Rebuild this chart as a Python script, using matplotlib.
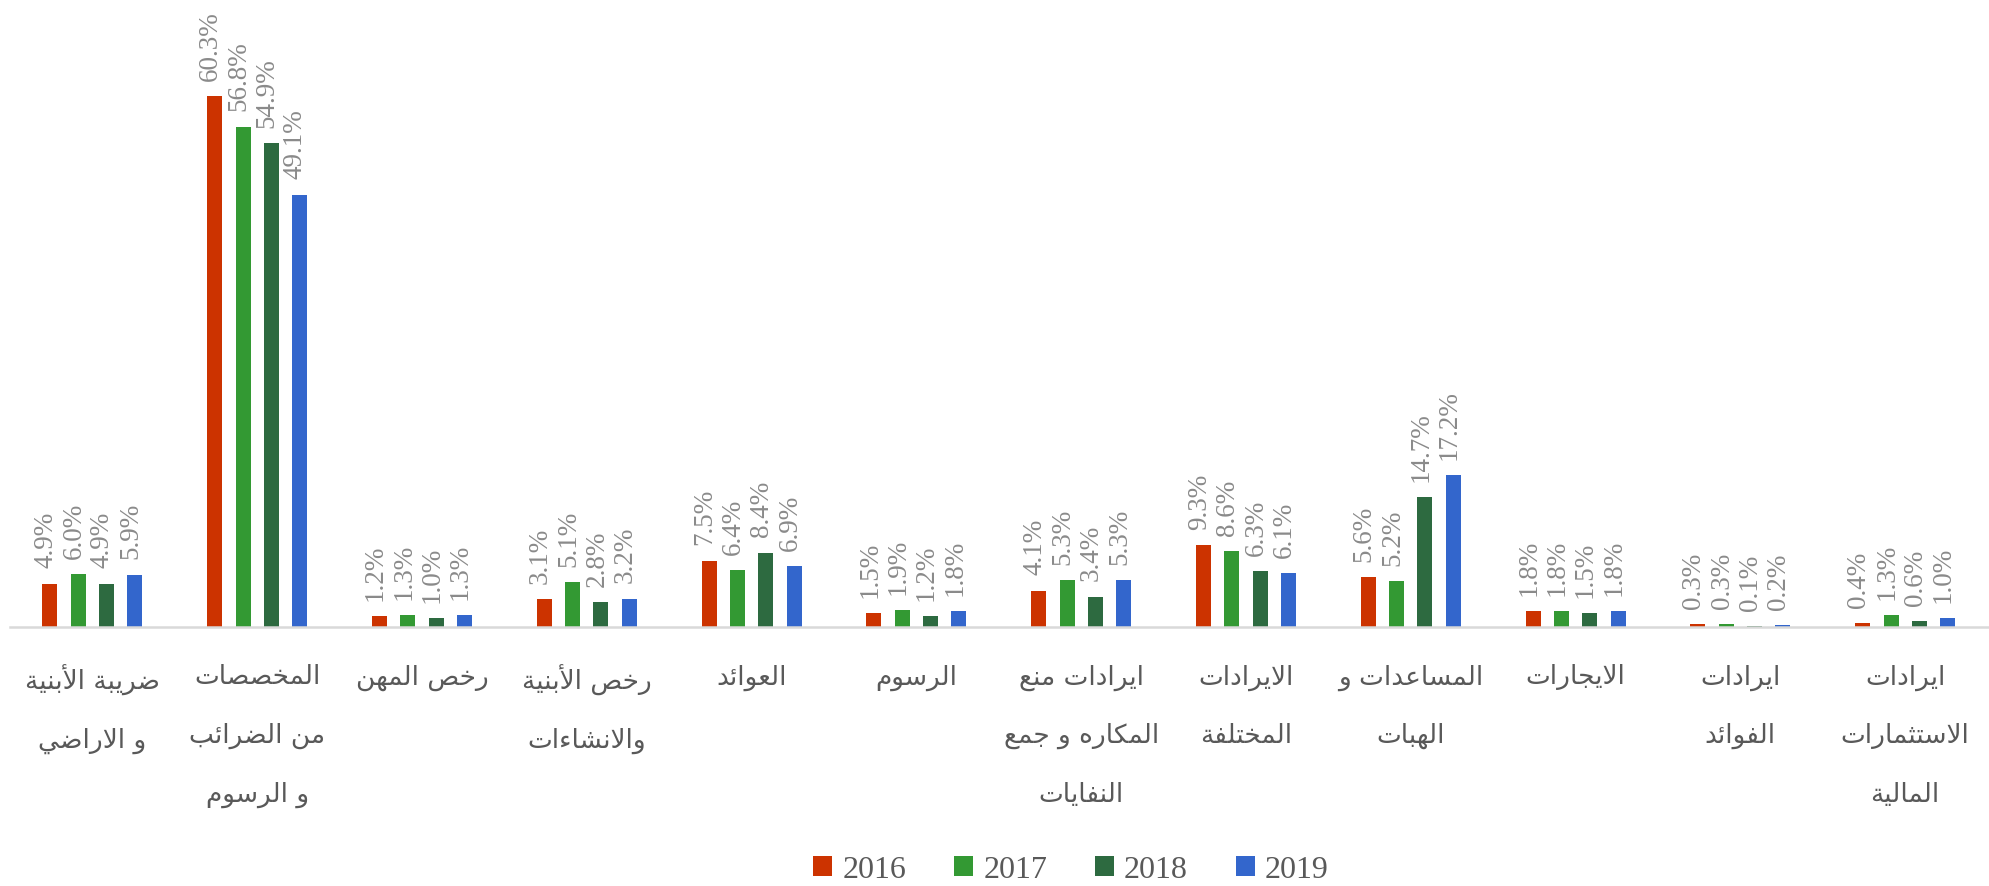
import matplotlib
matplotlib.use("Agg")
import matplotlib.pyplot as plt
from matplotlib.patches import Patch
import numpy as np

# ---------------- data ----------------
categories = [
    "ضريبة الأبنية\nو الاراضي",
    "المخصصات\nمن الضرائب\nو الرسوم",
    "رخص المهن",
    "رخص الأبنية\nوالانشاءات",
    "العوائد",
    "الرسوم",
    "ايرادات منع\nالمكاره و جمع\nالنفايات",
    "الايرادات\nالمختلفة",
    "المساعدات و\nالهبات",
    "الايجارات",
    "ايرادات\nالفوائد",
    "ايرادات\nالاستثمارات\nالمالية",
]
years = ["2016", "2017", "2018", "2019"]
v2016 = [4.9, 60.3, 1.2, 3.1, 7.5, 1.5, 4.1, 9.3, 5.6, 1.8, 0.3, 0.4]
v2017 = [6.0, 56.8, 1.3, 5.1, 6.4, 1.9, 5.3, 8.6, 5.2, 1.8, 0.3, 1.3]
v2018 = [4.9, 54.9, 1.0, 2.8, 8.4, 1.2, 3.4, 6.3, 14.7, 1.5, 0.1, 0.6]
v2019 = [5.9, 49.1, 1.3, 3.2, 6.9, 1.8, 5.3, 6.1, 17.2, 1.8, 0.2, 1.0]
series = [v2016, v2017, v2018, v2019]
colors = ["#CC3300", "#339933", "#2D6A40", "#3366CC"]

# ---------------- minimal Arabic shaping ----------------
# code point -> (isolated presentation form, kind) ; kind 1 = non-joining, 2 = right-joining, 4 = dual-joining
_FORMS = {
    0x0621: (0xFE80, 1), 0x0622: (0xFE81, 2), 0x0623: (0xFE83, 2), 0x0624: (0xFE85, 2),
    0x0625: (0xFE87, 2), 0x0626: (0xFE89, 4), 0x0627: (0xFE8D, 2), 0x0628: (0xFE8F, 4),
    0x0629: (0xFE93, 2), 0x062A: (0xFE95, 4), 0x062B: (0xFE99, 4), 0x062C: (0xFE9D, 4),
    0x062D: (0xFEA1, 4), 0x062E: (0xFEA5, 4), 0x062F: (0xFEA9, 2), 0x0630: (0xFEAB, 2),
    0x0631: (0xFEAD, 2), 0x0632: (0xFEAF, 2), 0x0633: (0xFEB1, 4), 0x0634: (0xFEB5, 4),
    0x0635: (0xFEB9, 4), 0x0636: (0xFEBD, 4), 0x0637: (0xFEC1, 4), 0x0638: (0xFEC5, 4),
    0x0639: (0xFEC9, 4), 0x063A: (0xFECD, 4), 0x0641: (0xFED1, 4), 0x0642: (0xFED5, 4),
    0x0643: (0xFED9, 4), 0x0644: (0xFEDD, 4), 0x0645: (0xFEE1, 4), 0x0646: (0xFEE5, 4),
    0x0647: (0xFEE9, 4), 0x0648: (0xFEED, 2), 0x0649: (0xFEEF, 2), 0x064A: (0xFEF1, 4),
}
_LAMALEF = {0x0622: (0xFEF5, 0xFEF6), 0x0623: (0xFEF7, 0xFEF8),
            0x0625: (0xFEF9, 0xFEFA), 0x0627: (0xFEFB, 0xFEFC)}


def _shape_line(line):
    cps = [ord(c) for c in line]
    n = len(cps)
    res = []
    i = 0
    while i < n:
        c = cps[i]
        if c not in _FORMS:
            res.append(chr(c))
            i += 1
            continue
        prev = cps[i - 1] if i > 0 else None
        prev_join = prev is not None and prev in _FORMS and _FORMS[prev][1] == 4
        if c == 0x0644 and i + 1 < n and cps[i + 1] in _LAMALEF:
            iso, fin = _LAMALEF[cps[i + 1]]
            res.append(chr(fin if prev_join else iso))
            i += 2
            continue
        nxt = cps[i + 1] if i + 1 < n else None
        next_join = nxt is not None and nxt in _FORMS and _FORMS[nxt][1] != 1
        base, kind = _FORMS[c]
        if kind == 1:
            g = base
        elif kind == 2:
            g = base + 1 if prev_join else base
        else:
            if prev_join and next_join:
                g = base + 3
            elif prev_join:
                g = base + 1
            elif next_join:
                g = base + 2
            else:
                g = base
        res.append(chr(g))
        i += 1
    return "".join(reversed(res))


def shape(text):
    return "\n".join(_shape_line(l) for l in text.split("\n"))


# ---------------- figure ----------------
W, H = 1990, 886
fig = plt.figure(figsize=(W / 100, H / 100), dpi=100)
ax = fig.add_axes([10 / W, (H - 626.7) / H, 1977.6 / W, 626.7 / H])

x = np.arange(len(categories))
pitch = 0.1717
bw = 0.091
offsets = (np.arange(4) - 1.5) * pitch

for k, (vals, col, yr) in enumerate(zip(series, colors, years)):
    bars = ax.bar(x + offsets[k], vals, width=bw, color=col, label=yr, zorder=2)
    for rect, v in zip(bars, vals):
        ax.annotate(f"{v:.1f}%", (rect.get_x() + rect.get_width() / 2, rect.get_height()),
                    xytext=(-3, 11), textcoords="offset points",
                    rotation=90, ha="center", va="bottom",
                    fontsize=19.5, family="Liberation Serif", color="#8A8A8A",
                    annotation_clip=False)

ax.set_xlim(-0.5, len(categories) - 0.5)
ax.set_ylim(0, 71.2)
for s in ["top", "right", "left"]:
    ax.spines[s].set_visible(False)
ax.spines["bottom"].set_color("#D9D9D9")
ax.spines["bottom"].set_linewidth(1.8)
ax.set_yticks([])
ax.set_xticks([])

for xi, cat in zip(x, categories):
    ax.text(xi, -0.06, shape(cat), transform=ax.get_xaxis_transform(),
            ha="center", va="top", multialignment="center",
            fontsize=19, family=["DejaVu Sans"], color="#595959", linespacing=2.63)

handles = [Patch(facecolor=c, edgecolor="none") for c in colors]
fig.legend(handles, years, loc="center", bbox_to_anchor=(0.5382, 16 / H), ncol=4,
           frameon=False, prop={"family": "Liberation Serif", "size": 23},
           handlelength=0.6, handleheight=0.6, handletextpad=0.31,
           columnspacing=1.5, labelcolor="#595959")

fig.savefig("out.png", dpi=100)
